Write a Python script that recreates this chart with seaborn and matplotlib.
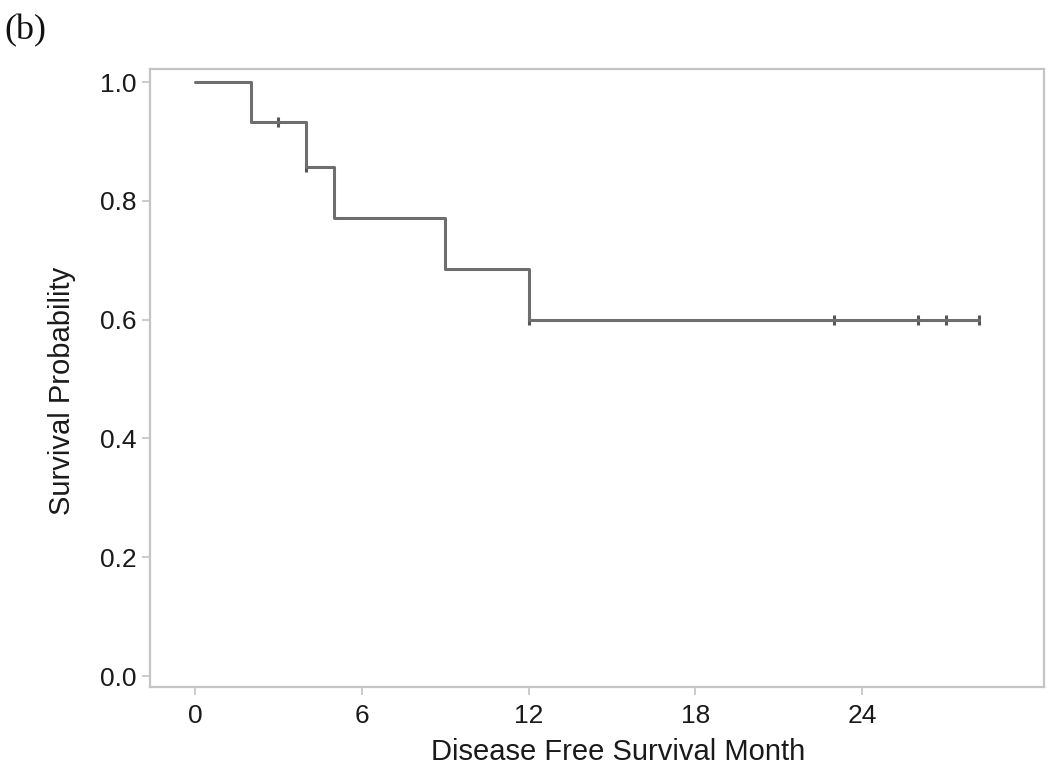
import matplotlib
matplotlib.use("Agg")
import matplotlib.pyplot as plt
import seaborn as sns
import pandas as pd

# Kaplan-Meier step curve
step_times = [0, 2, 4, 5, 9, 12, 28.2]
step_surv = [1.0, 0.933, 0.857, 0.771, 0.686, 0.600, 0.600]
# Censored observations
censor_times = [3, 4, 12, 23, 26, 27, 28.2]
censor_surv = [0.933, 0.857, 0.600, 0.600, 0.600, 0.600, 0.600]

x_ticks = [0, 6, 12, 18, 24]
y_ticks = [0.0, 0.2, 0.4, 0.6, 0.8, 1.0]

sns.set_style("white")
plt.rcParams['font.family'] = ['Liberation Sans', 'DejaVu Sans']

fig = plt.figure(figsize=(10.5, 7.74), dpi=100)
ax = fig.add_axes([0.1429, 0.1124, 0.8514, 0.7984])

steps = pd.DataFrame({"t": step_times, "s": step_surv})
cens = pd.DataFrame({"t": censor_times, "s": censor_surv})

sns.lineplot(data=steps, x="t", y="s", drawstyle="steps-post", color="#6e6e6e",
             linewidth=2.2, ax=ax, estimator=None, sort=False)
sns.scatterplot(data=cens, x="t", y="s", marker="|", s=60, color="#555555",
                linewidth=2.2, ax=ax)

ax.set_xlim(-1.62, 30.54)
ax.set_ylim(-0.0185, 1.022)
ax.set_xticks(x_ticks)
ax.set_xticklabels([str(v) for v in x_ticks])
ax.set_yticks(y_ticks)
ax.set_yticklabels([f"{v:.1f}" for v in y_ticks])

for sp in ax.spines.values():
    sp.set_color("#c4c4c4")
    sp.set_linewidth(1.6)
ax.tick_params(axis="both", which="major", length=6, width=1.2, color="#c4c4c4",
               labelsize=19, labelcolor="#1a1a1a", pad=4, direction="out",
               bottom=True, left=True)
ax.tick_params(axis="x", pad=6)

ax.set_xlabel("Disease Free Survival Month", fontsize=21, color="#1a1a1a")
ax.set_ylabel("Survival Probability", fontsize=21, color="#1a1a1a")
ax.xaxis.set_label_coords(0.5235, -0.082)
ax.yaxis.set_label_coords(-0.083, 0.48)

fig.text(0.004, 1 - 14 / 774, "(b)", fontsize=26, va="top",
         family=["Liberation Serif", "DejaVu Serif"], color="#111111")

fig.savefig("out.png", dpi=100)
